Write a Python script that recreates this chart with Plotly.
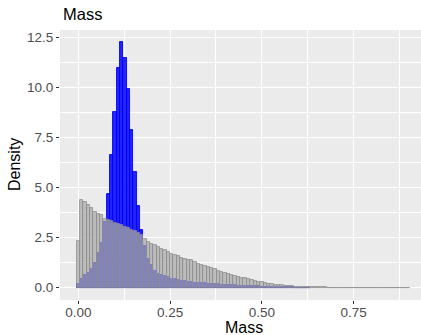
import plotly.graph_objects as go

# Histogram bin width (100 bins spanning the data range 0 .. 0.9)
bin_width = 0.9 / 99
n_bins = 100
bin_centers = [i * bin_width for i in range(n_bins)]

# Density per bin
grey_density = [
    2.32, 4.40, 4.28, 4.12, 3.98, 3.80, 3.70, 3.62, 3.45, 3.37,
    3.33, 3.25, 3.20, 3.12, 3.03, 2.98, 2.90, 2.82, 2.73, 2.65,
    2.45, 2.30, 2.20, 2.12, 2.05, 1.95, 1.87, 1.78, 1.70, 1.63,
    1.57, 1.50, 1.45, 1.40, 1.36, 1.27, 1.20, 1.14, 1.08, 1.02,
    0.97, 0.91, 0.86, 0.80, 0.75, 0.71, 0.66, 0.61, 0.56, 0.51,
    0.47, 0.43, 0.38, 0.34, 0.30, 0.27, 0.24, 0.21, 0.18, 0.16,
    0.14, 0.12, 0.10, 0.085, 0.07, 0.06, 0.05, 0.04, 0.035, 0.03,
    0.025, 0.02, 0.018, 0.015, 0.012, 0.010, 0.009, 0.008, 0.007, 0.006,
    0.005, 0.004, 0.004, 0.003, 0.003, 0.002, 0.002, 0.002, 0.002, 0.001,
    0.001, 0.001, 0.001, 0.001, 0.001, 0.001, 0.001, 0.001, 0.001, 0.001,
]
blue_density = [
    0.19, 0.46, 0.62, 0.74, 0.94, 1.24, 1.73, 2.24, 3.30, 4.66,
    6.60, 8.78, 10.97, 12.25, 11.47, 9.90, 7.88, 5.79, 4.07, 2.87,
    2.07, 1.45, 1.12, 0.82, 0.70, 0.62, 0.58, 0.54, 0.46, 0.42,
    0.38, 0.34, 0.32, 0.30, 0.28, 0.26, 0.24, 0.23, 0.22, 0.21,
    0.20, 0.18, 0.17, 0.16, 0.15, 0.14, 0.13, 0.12, 0.11, 0.10,
    0.10, 0.09, 0.08, 0.08, 0.07, 0.06, 0.06, 0.05, 0.05, 0.04,
    0.04, 0.03, 0.03, 0.02, 0.015, 0.01, 0.008, 0.005, 0.003, 0.002,
]

x_ticks = [0.0, 0.25, 0.5, 0.75]
x_tick_labels = ["0.00", "0.25", "0.50", "0.75"]
y_ticks = [0.0, 2.5, 5.0, 7.5, 10.0, 12.5]
y_tick_labels = ["0.0", "2.5", "5.0", "7.5", "10.0", "12.5"]

W, H = 421, 335
ML, MR, MT, MB = 60, 0, 30, 35
x_range = [-0.05, 0.9337]
y_range = [-0.6125, 12.8625]

fig = go.Figure()
fig.add_trace(go.Bar(
    x=bin_centers[:len(blue_density)], y=blue_density, width=bin_width,
    marker=dict(color="rgba(0,0,255,0.85)", line=dict(color="rgb(0,0,255)", width=0.9)),
    showlegend=False,
))
fig.add_trace(go.Bar(
    x=bin_centers, y=grey_density, width=bin_width,
    marker=dict(color="rgba(168,168,168,0.72)", line=dict(color="rgba(140,140,140,0.85)", width=0.9)),
    showlegend=False,
))

axis_common = dict(
    showgrid=True, gridcolor="white", gridwidth=1.1, zeroline=False,
    ticks="outside", ticklen=3, tickwidth=1, tickcolor="#333333",
    tickfont=dict(family="Liberation Sans, Arial, sans-serif", size=13.5, color="#4D4D4D"),
    showline=False,
)

fig.update_layout(
    width=W, height=H, barmode="overlay", bargap=0,
    margin=dict(l=ML, r=MR, t=MT, b=MB, pad=0),
    paper_bgcolor="white", plot_bgcolor="#EBEBEB",
    xaxis=dict(range=x_range, tickmode="array", tickvals=x_ticks, ticktext=x_tick_labels,
               ticklabelstandoff=-3,
               minor=dict(dtick=0.125, tick0=0, showgrid=True, gridcolor="white", gridwidth=0.55, ticks=""),
               **axis_common),
    yaxis=dict(range=y_range, tickmode="array", tickvals=y_ticks, ticktext=y_tick_labels,
               minor=dict(dtick=1.25, tick0=0, showgrid=True, gridcolor="white", gridwidth=0.55, ticks=""),
               **axis_common),
    font=dict(family="Liberation Sans, Arial, sans-serif"),
)

pw = W - ML - MR
ph = H - MT - MB

def px_x(p):
    return (p - ML) / pw

def px_y(p):
    return 1 - (p - MT) / ph

fig.add_annotation(text="Mass", xref="paper", yref="paper", x=px_x(61), y=px_y(14),
                   xanchor="left", yanchor="middle", showarrow=False,
                   font=dict(size=16.5, color="black"))
fig.add_annotation(text="Mass", xref="paper", yref="paper", x=px_x(244), y=px_y(337),
                   xanchor="center", yanchor="bottom", showarrow=False, borderpad=0,
                   font=dict(size=16, color="black"))
fig.add_annotation(text="Density", xref="paper", yref="paper", x=px_x(14), y=px_y(165),
                   xanchor="center", yanchor="middle", textangle=-90, showarrow=False,
                   font=dict(size=16, color="black"))

fig.write_html("out.html")
